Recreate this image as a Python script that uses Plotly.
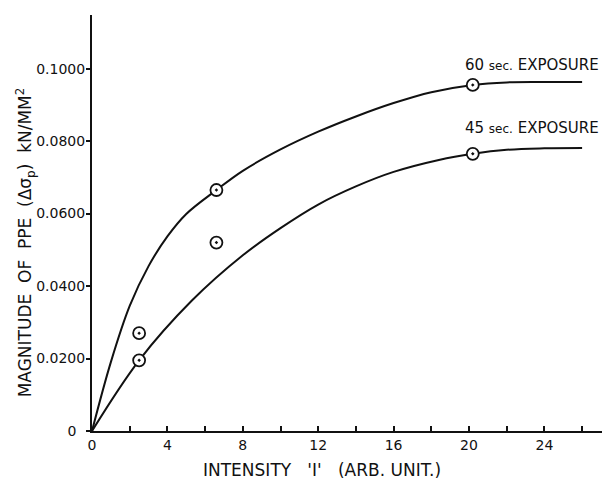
import plotly.graph_objects as go

# ---- data ----
# measured points (intensity, PPE)
x_pts = [2.5, 6.6, 20.2]
y60_pts = [0.027, 0.0665, 0.0955]
y45_pts = [0.0195, 0.052, 0.0765]

# fitted smooth curves
x60_curve = [0, 1, 2, 3, 4, 5, 6.6, 8, 10, 12, 14, 16, 18, 20.2, 22, 24, 26]
y60_curve = [0, 0.019, 0.0345, 0.0455, 0.0537, 0.0599, 0.0665, 0.0718, 0.0777, 0.0826, 0.0868, 0.0905, 0.0935, 0.0955, 0.0962, 0.0963, 0.0963]
x45_curve = [0, 2.5, 5.3, 8, 10, 12, 14, 16, 18.4, 20.2, 22, 24, 26]
y45_curve = [0, 0.0195, 0.036, 0.0485, 0.056, 0.0625, 0.0675, 0.0715, 0.0748, 0.0765, 0.0776, 0.078, 0.0781]

x_tickvals = [0, 4, 8, 12, 16, 20, 24]
x_ticktext = ["0", "4", "8", "12", "16", "20", "24"]
x_minorvals = [2, 6, 10, 14, 18, 22, 26]
y_tickvals = [0, 0.02, 0.04, 0.06, 0.08, 0.10]
y_ticktext = ["0&nbsp;&nbsp;", "0.0200", "0.0400", "0.0600", "0.0800", "0.1000"]

FONT = "DejaVu Sans"
ink = "#111111"

fig = go.Figure()
for xc, yc in [(x60_curve, y60_curve), (x45_curve, y45_curve)]:
    fig.add_trace(go.Scatter(x=xc, y=yc, mode="lines",
                             line=dict(color=ink, width=2, shape="spline", smoothing=1.0),
                             showlegend=False, hoverinfo="skip"))
for yp in [y60_pts, y45_pts]:
    fig.add_trace(go.Scatter(x=x_pts, y=yp, mode="markers",
                             marker=dict(symbol="circle-dot", size=12, color="white",
                                         line=dict(color=ink, width=1.8)),
                             showlegend=False))

fig.add_annotation(x=19.7, y=0.101, xref="x", yref="y", xanchor="left", yanchor="middle",
                   text="60 <span style='font-size:12px'>sec.</span> EXPOSURE",
                   showarrow=False, font=dict(family=FONT, size=15, color=ink))
fig.add_annotation(x=19.7, y=0.0836, xref="x", yref="y", xanchor="left", yanchor="middle",
                   text="45 <span style='font-size:12px'>sec.</span> EXPOSURE",
                   showarrow=False, font=dict(family=FONT, size=15, color=ink))

# axis titles
fig.add_annotation(x=0.444, y=-0.094, xref="paper", yref="paper", xanchor="center", yanchor="middle",
                   text="INTENSITY &nbsp;&nbsp;'I' &nbsp;&nbsp;(ARB. UNIT.)",
                   showarrow=False, font=dict(family=FONT, size=17, color=ink))
fig.add_annotation(x=-0.129, y=0.454, xref="paper", yref="paper", xanchor="center", yanchor="middle",
                   textangle=-90,
                   text="MAGNITUDE &nbsp;OF &nbsp;PPE &nbsp;(Δσ<sub>p</sub>) &nbsp;kN/MM<sup>2</sup>",
                   showarrow=False, font=dict(family=FONT, size=17, color=ink))

fig.update_layout(
    width=602, height=481,
    margin=dict(l=84, r=0, t=7, b=58),
    paper_bgcolor="white", plot_bgcolor="white",
    font=dict(family=FONT, size=14, color=ink),
)
fig.update_xaxes(
    range=[0, 27.48], tickvals=x_tickvals, ticktext=x_ticktext,
    ticks="inside", ticklen=5, tickwidth=1.5, tickcolor=ink,
    minor=dict(tickvals=x_minorvals, ticks="inside", ticklen=5, tickwidth=1.5, tickcolor=ink),
    showline=True, linecolor=ink, linewidth=2, showgrid=False, zeroline=False,
    tickfont=dict(family=FONT, size=14, color=ink),
)
fig.update_yaxes(
    range=[0, 0.1148], tickvals=y_tickvals, ticktext=y_ticktext,
    ticks="outside", ticklen=4, tickwidth=1.5, tickcolor=ink,
    ticklabelstandoff=-2,
    showline=True, linecolor=ink, linewidth=2, showgrid=False, zeroline=False,
    tickfont=dict(family=FONT, size=14, color=ink),
)

fig.write_html("out.html")
